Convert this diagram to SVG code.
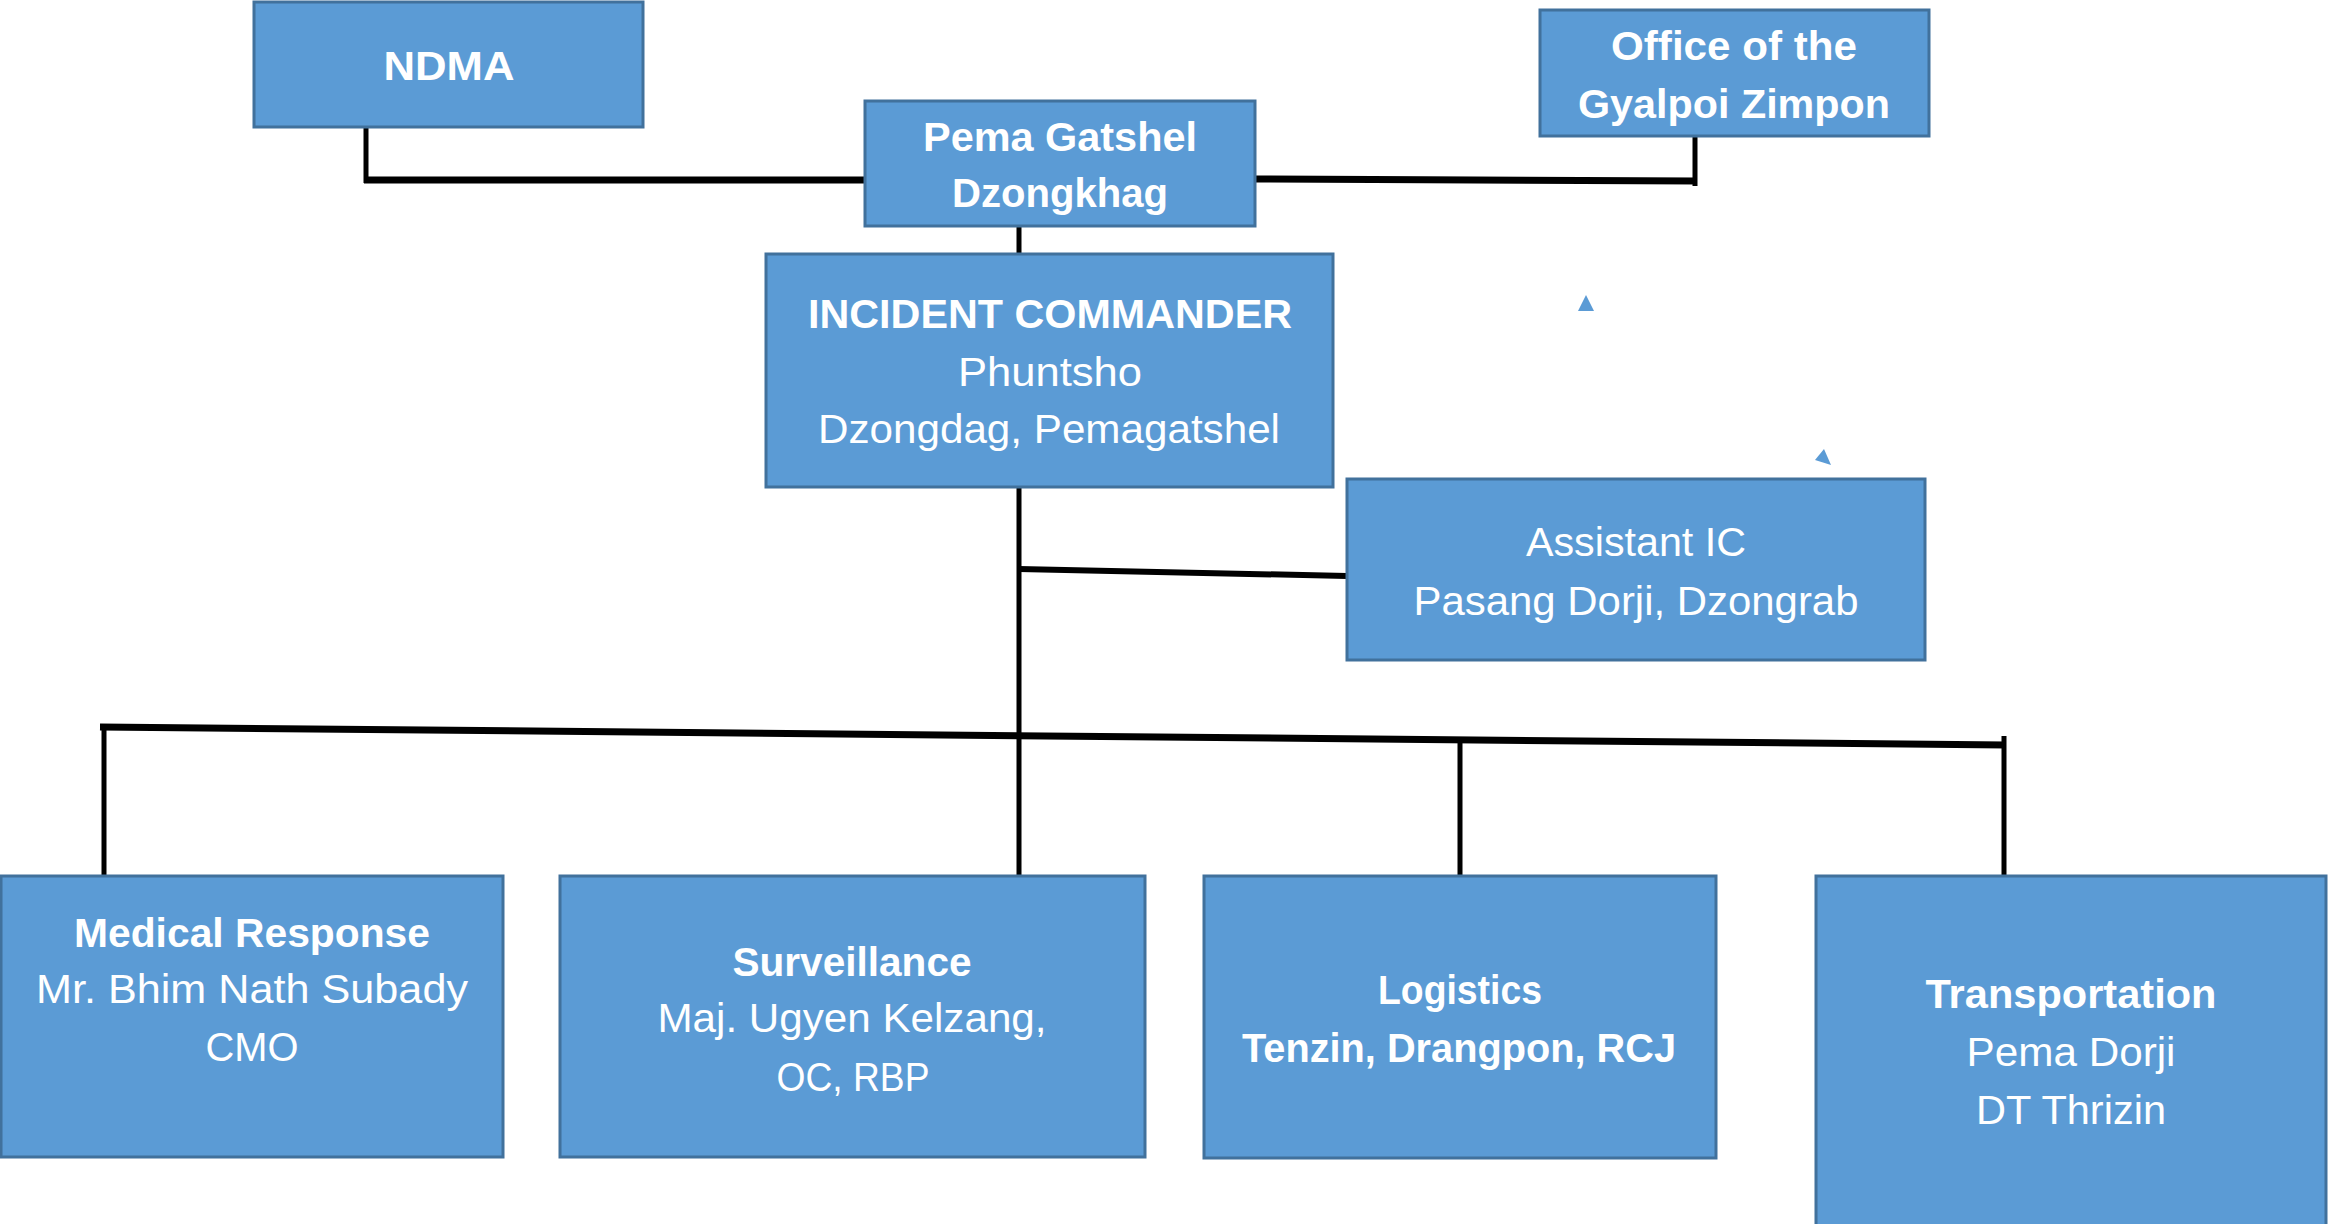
<svg xmlns="http://www.w3.org/2000/svg" width="2328" height="1224" viewBox="0 0 2328 1224">
<style>
.box{fill:#5B9BD5;stroke:#41719C;stroke-width:3}
.t{font-family:"Liberation Sans","Open Sans",Arial,sans-serif;font-size:41px;fill:#FFFFFF;text-anchor:middle}
.b{font-weight:bold}
.c{stroke:#000000;fill:none;stroke-linecap:butt}
.tri{fill:#5B9BD5}
</style>
<rect width="2328" height="1224" fill="#FFFFFF"/>
<g id="connectors">
<line class="c" x1="366" y1="119" x2="366" y2="183" stroke-width="5"/>
<line class="c" x1="364" y1="180" x2="865" y2="180" stroke-width="7"/>
<line class="c" x1="1255" y1="179" x2="1697" y2="181" stroke-width="7"/>
<line class="c" x1="1695" y1="136" x2="1695" y2="186" stroke-width="5"/>
<line class="c" x1="1019" y1="226" x2="1019" y2="254" stroke-width="5"/>
<line class="c" x1="1019" y1="487" x2="1019" y2="876" stroke-width="5"/>
<line class="c" x1="1019" y1="569" x2="1347" y2="576" stroke-width="6"/>
<line class="c" x1="100" y1="727" x2="2006" y2="745" stroke-width="7"/>
<line class="c" x1="104" y1="724" x2="104" y2="876" stroke-width="5"/>
<line class="c" x1="1460" y1="740" x2="1460" y2="876" stroke-width="5"/>
<line class="c" x1="2004" y1="736" x2="2004" y2="876" stroke-width="5"/>
<polygon class="tri" points="1586,295 1578,311 1594,311"/>
<polygon class="tri" points="1824,449 1815,460 1831,465"/>
</g>
<g id="ndma">
<rect class="box" x="254" y="2" width="389" height="125"/>
<text class="t b" x="449" y="80" textLength="131" lengthAdjust="spacingAndGlyphs">NDMA</text>
</g>
<g id="pema-gatshel">
<rect class="box" x="865" y="101" width="390" height="125"/>
<text class="t b" x="1060" y="151" textLength="274" lengthAdjust="spacingAndGlyphs">Pema Gatshel</text>
<text class="t b" x="1060" y="207" textLength="216" lengthAdjust="spacingAndGlyphs">Dzongkhag</text>
</g>
<g id="gyalpoi-zimpon">
<rect class="box" x="1540" y="10" width="389" height="126"/>
<text class="t b" x="1734" y="60" textLength="246" lengthAdjust="spacingAndGlyphs">Office of the</text>
<text class="t b" x="1734" y="118" textLength="312" lengthAdjust="spacingAndGlyphs">Gyalpoi Zimpon</text>
</g>
<g id="incident-commander">
<rect class="box" x="766" y="254" width="567" height="233"/>
<text class="t b" x="1050" y="328" textLength="484" lengthAdjust="spacingAndGlyphs">INCIDENT COMMANDER</text>
<text class="t" x="1050" y="386" textLength="184" lengthAdjust="spacingAndGlyphs">Phuntsho</text>
<text class="t" x="1049" y="443" textLength="462" lengthAdjust="spacingAndGlyphs">Dzongdag, Pemagatshel</text>
</g>
<g id="assistant-ic">
<rect class="box" x="1347" y="479" width="578" height="181"/>
<text class="t" x="1636" y="556" textLength="220" lengthAdjust="spacingAndGlyphs">Assistant IC</text>
<text class="t" x="1636" y="615" textLength="445" lengthAdjust="spacingAndGlyphs">Pasang Dorji, Dzongrab</text>
</g>
<g id="medical-response">
<rect class="box" x="1" y="876" width="502" height="281"/>
<text class="t b" x="252" y="947" textLength="356" lengthAdjust="spacingAndGlyphs">Medical Response</text>
<text class="t" x="252" y="1003" textLength="432" lengthAdjust="spacingAndGlyphs">Mr. Bhim Nath Subady</text>
<text class="t" x="252" y="1061" textLength="93" lengthAdjust="spacingAndGlyphs">CMO</text>
</g>
<g id="surveillance">
<rect class="box" x="560" y="876" width="585" height="281"/>
<text class="t b" x="852" y="976" textLength="239" lengthAdjust="spacingAndGlyphs">Surveillance</text>
<text class="t" x="852" y="1032" textLength="389" lengthAdjust="spacingAndGlyphs">Maj. Ugyen Kelzang,</text>
<text class="t" x="853" y="1091" textLength="153" lengthAdjust="spacingAndGlyphs">OC, RBP</text>
</g>
<g id="logistics">
<rect class="box" x="1204" y="876" width="512" height="282"/>
<text class="t b" x="1460" y="1004" textLength="164" lengthAdjust="spacingAndGlyphs">Logistics</text>
<text class="t b" x="1459" y="1062" textLength="434" lengthAdjust="spacingAndGlyphs">Tenzin, Drangpon, RCJ</text>
</g>
<g id="transportation">
<rect class="box" x="1816" y="876" width="510" height="360"/>
<text class="t b" x="2071" y="1008" textLength="291" lengthAdjust="spacingAndGlyphs">Transportation</text>
<text class="t" x="2071" y="1066" textLength="209" lengthAdjust="spacingAndGlyphs">Pema Dorji</text>
<text class="t" x="2071" y="1124" textLength="190" lengthAdjust="spacingAndGlyphs">DT Thrizin</text>
</g>
</svg>
